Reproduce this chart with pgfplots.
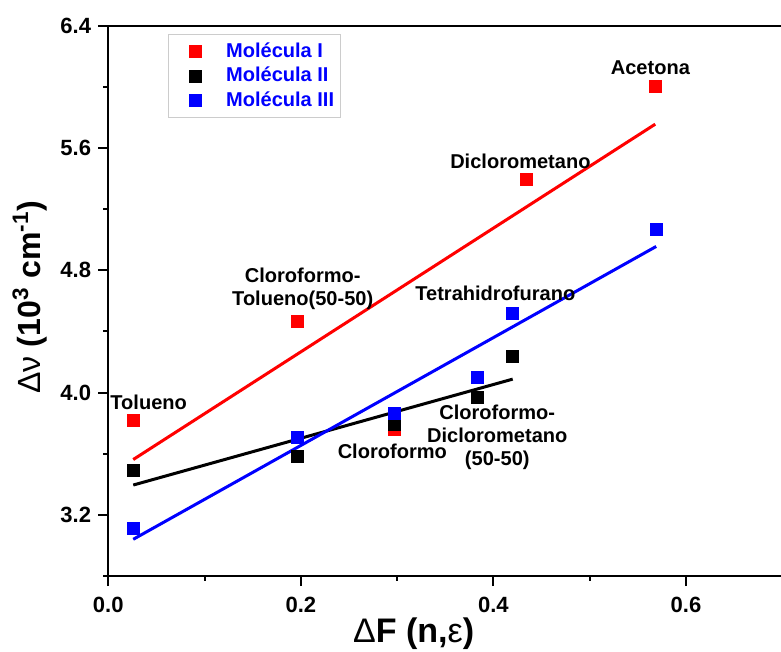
\documentclass[border=0pt]{standalone}
\usepackage{fontspec}
\setmainfont{Liberation Sans}
\usepackage{pgfplots}
\pgfplotsset{compat=1.18}
\begin{document}
\begin{tikzpicture}
\begin{axis}[
  scale only axis,
  width=336.5pt, height=274.65pt,
  xmin=0, xmax=0.7, ymin=2.8, ymax=6.4,
  xtick={0,0.2,0.4,0.6}, xticklabels={0.0,0.2,0.4,0.6},
  minor xtick={0.1,0.3,0.5,0.7},
  ytick={3.2,4.0,4.8,5.6,6.4}, yticklabels={3.2,4.0,4.8,5.6,6.4},
  minor ytick={2.8,3.6,4.4,5.2,6.0},
  tick align=outside, xtick pos=bottom, ytick pos=left,
  major tick length=5pt, minor tick length=2.5pt,
  axis line style={line width=1pt},
  every tick/.style={black, line width=1pt},
  tick label style={font=\bfseries\fontsize{11}{13}\selectfont},
  xticklabel style={yshift=-2pt},
  xlabel={{\mdseries Δ}F (n,{\mdseries ε})},
  ylabel={{\mdseries Δν} (10\textsuperscript{3} cm\textsuperscript{-1})},
  xlabel style={font=\bfseries\fontsize{17}{19}\selectfont, at={(rel axis cs:0.453,-0.1056)}, anchor=center},
  ylabel style={font=\bfseries\fontsize{16}{18}\selectfont, at={(rel axis cs:-0.116,0.507)}, anchor=center},
  legend style={at={(rel axis cs:0.088,0.985)}, anchor=north west, draw=black!20, line width=0.5pt,
    font=\bfseries\fontsize{10}{12}\selectfont, text=blue, row sep=-0.5pt, inner xsep=1pt, inner ysep=2pt},
  legend cell align=left,
  legend image code/.code={
    \path[draw=none, fill=none] (0pt,0pt) -- (26pt,0pt);
    \draw[#1, only marks] plot coordinates {(12.5pt,0pt)};
  },
]
\coordinate (bbsw) at (rel axis cs:-0.1605,-0.1365);
\coordinate (bbne) at (rel axis cs:0.998,1.0468);

% fitted lines
\addplot[red, line width=1.5pt, forget plot] coordinates {(0.026,3.562) (0.568,5.756)};
\addplot[black, line width=1.5pt, forget plot] coordinates {(0.026,3.395) (0.420,4.088)};
\addplot[blue, line width=1.5pt, forget plot] coordinates {(0.026,3.040) (0.569,4.956)};

% data
\addplot[only marks, mark=square*, mark size=3pt, color=red] coordinates {
 (0.026,3.818) (0.196,4.468) (0.297,3.757) (0.434,5.394) (0.568,6.002)};
\addlegendentry{Molécula I}
\addplot[only marks, mark=square*, mark size=3pt, color=black] coordinates {
 (0.026,3.489) (0.196,3.581) (0.297,3.793) (0.383,3.971) (0.420,4.238)};
\addlegendentry{Molécula II}
\addplot[only marks, mark=square*, mark size=3pt, color=blue] coordinates {
 (0.026,3.109) (0.196,3.708) (0.297,3.862) (0.383,4.102) (0.420,4.518) (0.569,5.070)};
\addlegendentry{Molécula III}

\begin{scope}[every node/.style={font=\bfseries\fontsize{10}{11.5}\selectfont, align=center, inner sep=0pt}]
\node at (axis cs:0.563,6.127) {Acetona};
\node at (axis cs:0.428,5.514) {Diclorometano};
\node at (axis cs:0.202,4.678) {Cloroformo-\\Tolueno(50-50)};
\node at (axis cs:0.402,4.650) {Tetrahidrofurano};
\node at (axis cs:0.404,3.708) {Cloroformo-\\Diclorometano\\(50-50)};
\node at (axis cs:0.295,3.616) {Cloroformo};
\node at (axis cs:0.042,3.938) {Tolueno};
\end{scope}
\end{axis}
\pgfresetboundingbox
\path[use as bounding box] (bbsw) rectangle (bbne);
\end{tikzpicture}
\end{document}
